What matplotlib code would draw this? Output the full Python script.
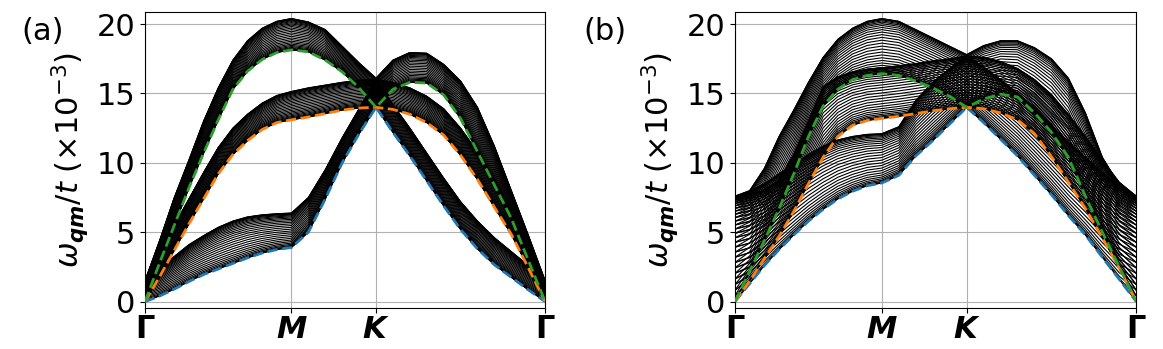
import numpy as np
import matplotlib.pyplot as plt

plt.rcParams.update({"font.size": 22})

# k-path Gamma -> M -> K -> Gamma (segment lengths for a hexagonal BZ)
seg = np.array([1/np.sqrt(3), 1/3, 2/3])
frac_gm = np.linspace(0, 1, 11)
frac_mk = np.array([0.2, 0.4, 0.6, 0.8, 1.0])
frac_kg = np.linspace(0.1, 1, 10)
kpath = np.concatenate([seg[0]*frac_gm,
                        seg[0] + seg[1]*frac_mk,
                        seg[0] + seg[1] + seg[2]*frac_kg])
kticks = [0, seg[0], seg[0] + seg[1], seg.sum()]
klabels = [r"$\mathbf{\Gamma}$", r"$\mathbfit{M}$", r"$\mathbfit{K}$", r"$\mathbf{\Gamma}$"]

# panel (a): lower edge (dashed) and upper edge of each band family, omega/t x 1e3
a_blue_lo = [0, 0.4, 0.9, 1.45, 1.95, 2.35, 2.75, 3.15, 3.5, 3.75, 3.9,
             5.0, 7.4, 10.0, 12.1, 14.0,
             12.2, 10.5, 8.7, 6.9, 5.2, 3.8, 2.65, 1.75, 0.85, 0]
a_blue_hi = [1.5, 2.4, 3.25, 4.1, 4.75, 5.35, 5.8, 6.1, 6.25, 6.33, 6.38,
             7.5, 9.5, 11.8, 13.9, 16.0,
             14.2, 12.5, 10.7, 8.9, 7.2, 5.8, 4.6, 3.6, 2.6, 1.5]
a_orange_lo = [0, 1.8, 3.7, 5.6, 7.4, 9.2, 10.6, 11.6, 12.4, 12.9, 13.1,
               13.3, 13.55, 13.8, 13.95, 14.0,
               13.85, 13.5, 12.9, 12.0, 10.55, 8.8, 6.8, 4.85, 2.45, 0]
a_orange_hi = [1.5, 3.6, 5.5, 7.4, 9.3, 11.1, 12.5, 13.5, 14.3, 14.85, 15.14,
               15.4, 15.6, 15.8, 15.95, 16.0,
               15.8, 15.4, 14.8, 13.9, 12.5, 10.8, 8.8, 6.6, 4.0, 1.5]
a_green_lo = [0, 2.8, 5.5, 8.2, 10.7, 13.1, 15.3, 16.6, 17.45, 17.95, 18.14,
              18.0, 17.4, 16.55, 15.4, 14.0,
              15.3, 15.8, 15.75, 14.9, 13.2, 10.8, 8.4, 6.0, 3.0, 0]
a_green_hi = [1.5, 4.4, 7.5, 10.2, 13.0, 15.4, 17.4, 18.8, 19.7, 20.2, 20.4,
              20.15, 19.6, 18.4, 17.2, 16.1,
              17.4, 17.95, 17.9, 17.1, 15.9, 14.0, 11.2, 8.0, 4.8, 1.5]

# panel (b)
b_blue_lo = [0, 1.3, 2.6, 3.75, 4.8, 5.8, 6.65, 7.4, 7.95, 8.35, 8.55,
             9.1, 10.5, 11.6, 12.8, 14.0,
             12.9, 11.7, 10.5, 9.1, 7.7, 6.2, 4.8, 3.2, 1.6, 0]
b_blue_hi = [7.6, 7.9, 8.5, 9.2, 9.9, 10.6, 11.2, 11.65, 11.9, 12.05, 12.1,
             12.6, 14.5, 15.8, 16.8, 17.7,
             16.9, 16.0, 15.0, 13.9, 12.7, 11.5, 10.4, 9.3, 8.3, 7.6]
b_orange_lo = [0, 1.5, 3.1, 4.7, 6.5, 8.5, 10.4, 11.9, 12.7, 13.05, 13.2,
               13.35, 13.55, 13.75, 13.9, 14.0,
               13.9, 13.6, 13.1, 12.1, 10.45, 8.6, 6.7, 4.6, 2.4, 0]
b_orange_hi = [7.6, 7.8, 8.0, 8.8, 10.6, 13.0, 15.5, 16.2, 16.55, 16.75, 16.85,
               17.0, 17.15, 17.35, 17.5, 17.7,
               17.6, 17.3, 16.8, 16.0, 14.9, 13.5, 11.9, 10.2, 8.6, 7.6]
b_green_lo = [0, 2.2, 4.4, 6.7, 9.2, 11.9, 14.1, 15.3, 16.0, 16.3, 16.43,
              16.3, 15.9, 15.4, 14.8, 14.0,
              14.6, 14.95, 14.75, 13.6, 12.2, 10.4, 7.6, 5.0, 2.5, 0]
b_green_hi = [7.6, 8.0, 9.6, 11.9, 13.8, 15.8, 17.6, 18.9, 19.7, 20.2, 20.4,
              20.2, 19.6, 19.0, 18.4, 17.8,
              18.45, 18.8, 18.8, 18.3, 17.5, 16.1, 13.6, 10.4, 8.4, 7.6]

n_m = 30
s_m = np.sin(np.linspace(0, np.pi, n_m)/2)**2


def draw_panel(ax, families):
    for lo, hi, c in families:
        lo = np.asarray(lo)
        hi = np.asarray(hi)
        for s in s_m:
            ax.plot(kpath, np.sqrt(lo**2 + s*(hi**2 - lo**2)), color="k", lw=0.8)
    for lo, hi, c in families:
        ax.plot(kpath, lo, "--", color=c, lw=2, zorder=3)
    ax.set_xlim(0, seg.sum())
    ax.set_ylim(-0.45, 20.88)
    ax.set_xticks(kticks, klabels)
    ax.set_yticks([0, 5, 10, 15, 20])
    ax.tick_params(axis="x", pad=2)
    ax.grid(True)
    ax.set_ylabel(r"$\omega_{\mathbfit{qm}}/t$ ($\times10^{-3}$)", labelpad=4)


fig = plt.figure(figsize=(11.63, 3.49), dpi=100)
ax1 = fig.add_axes([0.1247, 0.118, 0.344, 0.848])
ax2 = fig.add_axes([0.632, 0.118, 0.345, 0.848])

draw_panel(ax1, [(a_blue_lo, a_blue_hi, "C0"),
                 (a_orange_lo, a_orange_hi, "C1"),
                 (a_green_lo, a_green_hi, "C2")])
draw_panel(ax2, [(b_blue_lo, b_blue_hi, "C0"),
                 (b_orange_lo, b_orange_hi, "C1"),
                 (b_green_lo, b_green_hi, "C2")])

fig.text(0.037, 0.91, "(a)", ha="center", va="center")
fig.text(0.52, 0.91, "(b)", ha="center", va="center")

fig.savefig("out.png", dpi=100)
